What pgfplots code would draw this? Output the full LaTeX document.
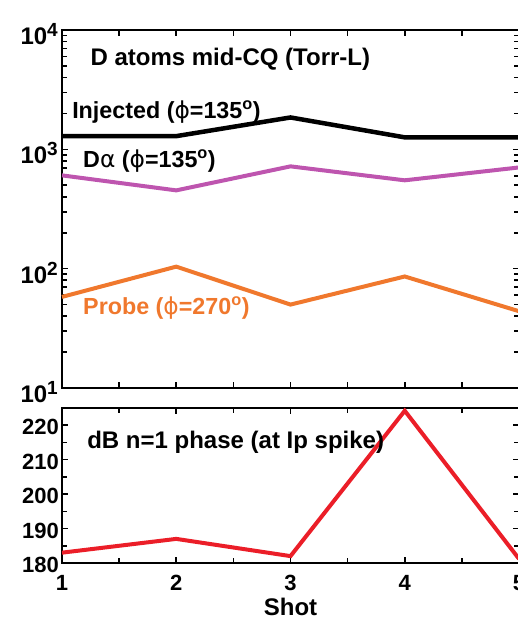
\documentclass[border=0pt]{standalone}
\usepackage{pgfplots}
\pgfplotsset{compat=1.18}
\usepackage{fontspec}
\setmainfont{Liberation Sans}
\newfontfamily\dv{DejaVu Sans}
\definecolor{cmag}{RGB}{190,85,175}
\definecolor{corange}{RGB}{240,120,45}
\definecolor{cred}{RGB}{235,30,40}
\newcommand{\fs}[1]{\fontsize{#1}{#1}\selectfont\bfseries}
\newcommand{\lt}[1]{10\raisebox{8pt}{\fontsize{19}{19}\selectfont\bfseries #1}}
\begin{document}
\begin{tikzpicture}
\useasboundingbox (-62pt,30pt) rectangle (455pt,-590pt);
\pgfplotsset{
  common/.style={
    scale only axis, width=457pt,
    xmin=1, xmax=5,
    tick align=inside,
    major tick length=6pt, minor tick length=5pt,
    axis line style={line width=2.5pt},
    every tick/.style={black, line width=1.6pt},
    /pgf/number format/assume math mode=true,
    clip=false,
  }
}
\begin{axis}[common,
  name=top, at={(0pt,0pt)}, anchor=north west,
  height=358pt,
  ymode=log, ymin=10, ymax=10000,
  xtick={1,1.5,2,2.5,3,3.5,4,4.5,5}, xticklabels={},
  ytick={10,100,1000,10000},
  yticklabels={\lt{1},\lt{2},\lt{3},\lt{4}},
  minor ytick={20,30,40,50,60,70,80,90,200,300,400,500,600,700,800,900,2000,3000,4000,5000,6000,7000,8000,9000},
  yticklabel style={font=\fs{24}, anchor=east, inner sep=2pt, xshift=-2pt, yshift=-4pt},
]
\addplot[black, line width=4.5pt] coordinates {(1,1290) (2,1290) (3,1850) (4,1260) (5,1260)};
\addplot[cmag, line width=4pt] coordinates {(1,605) (2,453) (3,720) (4,550) (5,705)};
\addplot[corange, line width=4pt] coordinates {(1,58) (2,104) (3,50) (4,86) (5,44)};
\node[anchor=base west, inner sep=0pt, font=\fs{24}] at (rel axis cs:0.062,0.902) {D atoms mid-CQ (Torr-L)};
\node[anchor=base west, inner sep=0pt, font=\fs{23.3}] at (rel axis cs:0.022,0.754) {Injected ({\dv\mdseries ϕ}=135\textsuperscript{o})};
\node[anchor=base west, inner sep=0pt, font=\fs{23.3}] at (rel axis cs:0.046,0.615) {D{\dv\mdseries α} ({\dv\mdseries ϕ}=135\textsuperscript{o})};
\node[anchor=base west, inner sep=0pt, font=\fs{23.3}, text=corange] at (rel axis cs:0.046,0.204) {Probe ({\dv\mdseries ϕ}=270\textsuperscript{o})};
\end{axis}
\begin{axis}[common,
  name=bot, at={(0pt,-378pt)}, anchor=north west,
  height=155pt,
  ymin=180, ymax=225,
  xtick={1,2,3,4,5}, minor xtick={1.5,2.5,3.5,4.5},
  ytick={180,190,200,210,220}, minor ytick={185,195,205,215},
  yticklabel style={font=\fs{22}, anchor=east, inner sep=2pt, xshift=-1pt, yshift=-2pt},
  xticklabel style={font=\fs{22}, anchor=north, inner sep=0pt, yshift=-12pt},
  xlabel={Shot}, xlabel style={font=\fs{24}, inner sep=0pt, yshift=-7pt},
]
\addplot[cred, line width=4pt] coordinates {(1,183) (2,187) (3,182) (4,224.2) (5,181.2)};
\node[anchor=base west, inner sep=0pt, font=\fs{24}] at (rel axis cs:0.055,0.74) {dB n=1 phase (at Ip spike)};
\end{axis}
\end{tikzpicture}
\end{document}
